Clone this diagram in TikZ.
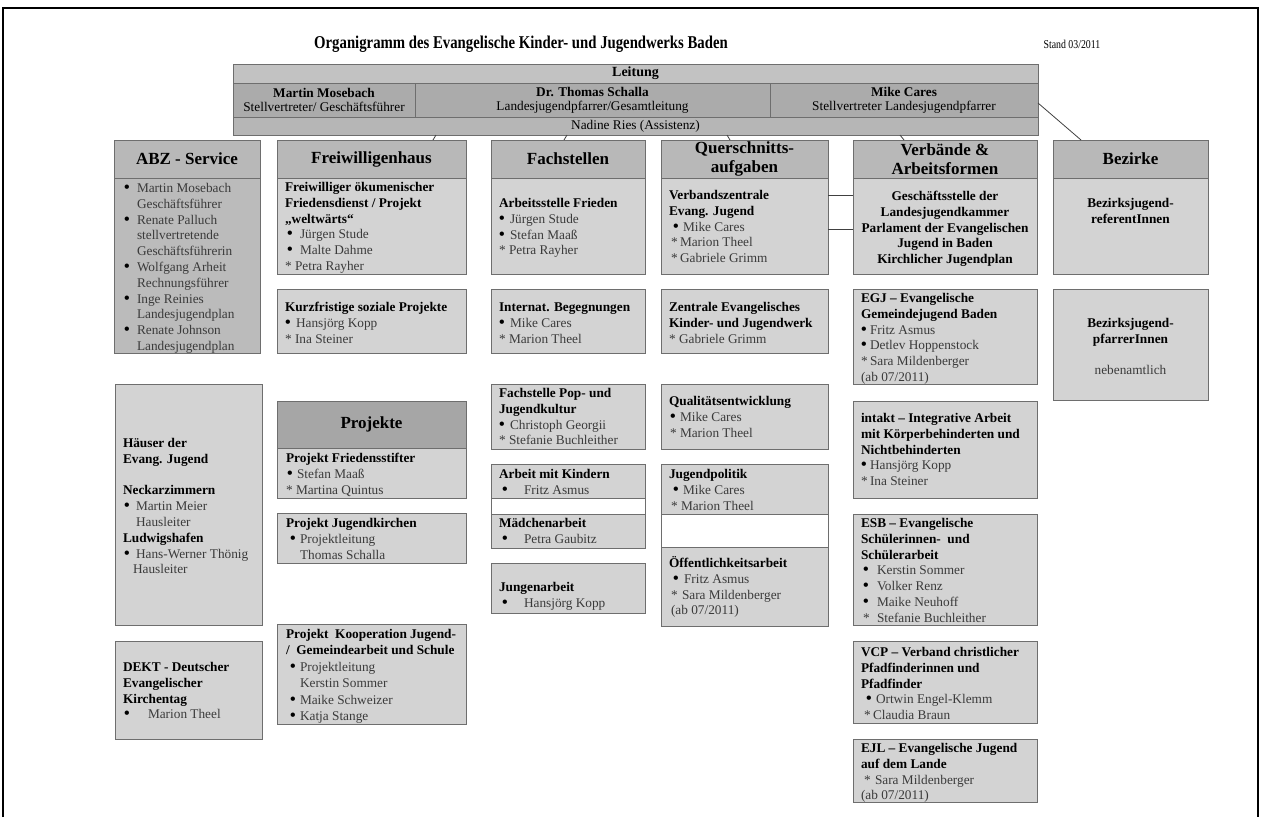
\documentclass[tikz,border=0pt]{standalone}
\usepackage{fontspec}
\setmainfont{Liberation Serif}
\newfontfamily\titlefont[FakeStretch=0.82]{Liberation Serif}
\usetikzlibrary{calc}
\definecolor{bordercol}{HTML}{6E6E6E}
\definecolor{hdrcol}{HTML}{B8B8B8}
\definecolor{boxcol}{HTML}{D3D3D3}
\definecolor{abzcol}{HTML}{BBBBBB}
\definecolor{projcol}{HTML}{A6A6A6}
\definecolor{leitTcol}{HTML}{C2C2C2}
\definecolor{leitMcol}{HTML}{ABABAB}
\definecolor{leitNcol}{HTML}{B6B6B6}
\definecolor{namecol}{HTML}{3A3A3A}
\definecolor{linecol}{HTML}{404040}
\newcommand{\bodyfont}{\fontsize{13.3}{15.8}\selectfont}
\newcommand{\hdrfont}{\bfseries\fontsize{17}{19}\selectfont}
\newcommand{\bul}{{\fontsize{16}{16}\selectfont\bfseries\color{black}•}}
\newcommand{\itm}[3][0]{\hspace*{#1pt}\makebox[#2pt][l]{\bul}{\mdseries\color{namecol}#3}}
\newcommand{\astr}[3][0]{\hspace*{#1pt}\makebox[#2pt][l]{\color{namecol}*}{\mdseries\color{namecol}#3}}
\newcommand{\ctn}[2]{\hspace*{#1pt}{\mdseries\color{namecol}#2}}
\newcommand{\tx}[4]{\node[txt] (#1) at (#2,#3) {\strut #4};}
\tikzset{
  cell/.style={draw=bordercol, line width=0.8pt, anchor=north west, inner sep=0pt, outer sep=0pt},
  hdr/.style={cell, fill=hdrcol, font=\hdrfont, align=center, text=black},
  bx/.style={cell, fill=boxcol},
  txt/.style={anchor=north west, inner sep=0pt, outer sep=0pt, align=left, font=\bodyfont, text=black},
  ctxt/.style={txt, anchor=north, align=center},
  conn/.style={draw=linecol, line width=0.8pt},
}
\begin{document}
\begin{tikzpicture}[x=1pt,y=-1pt]
\useasboundingbox (0,0) rectangle (1263,817);
% frame
\draw[line width=1.8pt, black] (3,817) -- (3,8) -- (1258,8) -- (1258,817);
% title
\node[font=\titlefont\bfseries\fontsize{18}{20}\selectfont] (title) at (521,44) {Organigramm des Evangelische Kinder- und Jugendwerks Baden};
\node[font=\titlefont\fontsize{12}{14}\selectfont] (stand) at (1072,44) {Stand 03/2011};

% Leitung
\node[cell, fill=leitTcol, minimum width=805, minimum height=19, font=\bfseries\fontsize{14}{16}\selectfont] (leitT) at (233,64) {Leitung};
\node[cell, fill=leitMcol, minimum width=182, minimum height=34, align=center, font=\fontsize{13.3}{14}\selectfont] (leitA) at (233,83) {\textbf{Martin Mosebach}\\Stellvertreter/ Geschäftsführer};
\node[cell, fill=leitMcol, minimum width=355, minimum height=34, align=center, font=\fontsize{13.3}{14}\selectfont] (leitB) at (415,83) {\textbf{Dr. Thomas Schalla}\\Landesjugendpfarrer/Gesamtleitung};
\node[cell, fill=leitMcol, minimum width=268, minimum height=34, align=center, font=\fontsize{13.3}{14}\selectfont] (leitC) at (770,83) {\textbf{Mike Cares}\\Stellvertreter Landesjugendpfarrer};
\node[cell, fill=leitNcol, minimum width=805, minimum height=18, font=\fontsize{13.3}{14}\selectfont] (leitN) at (233,117) {Nadine Ries (Assistenz)};
\node[cell, minimum width=805, minimum height=71] (leit) at (233,64) {};

% ---- ABZ column
\node[hdr, minimum width=146, minimum height=38] (abzH) at (114,140) {ABZ - Service};
\node[bx, fill=abzcol, minimum width=146, minimum height=175] (abzB) at (114,178) {};
\tx{abzT}{124}{181.5}{\itm{13}{Martin Mosebach}\\\ctn{13}{Geschäftsführer}\\\itm{13}{Renate Palluch}\\\ctn{13}{stellvertretende}\\\ctn{13}{Geschäftsführerin}\\\itm{13}{Wolfgang Arheit}\\\ctn{13}{Rechnungsführer}\\\itm{13}{Inge Reinies}\\\ctn{13}{Landesjugendplan}\\\itm{13}{Renate Johnson}\\\ctn{13}{Landesjugendplan}}
\node[bx, minimum width=147, minimum height=241] (hausB) at (115,384) {};
\tx{hausT}{123}{436.5}{\textbf{Häuser der}\\\textbf{Evang. Jugend}\\\mbox{}\\\textbf{Neckarzimmern}\\\itm[1]{12}{Martin Meier}\\\ctn{13}{Hausleiter}\\\textbf{Ludwigshafen}\\\itm[1]{12}{Hans-Werner Thönig}\\\ctn{10}{Hausleiter}}
\node[bx, minimum width=147, minimum height=98] (dektB) at (115,641) {};
\tx{dektT}{123}{660.5}{\textbf{DEKT - Deutscher}\\\textbf{Evangelischer}\\\textbf{Kirchentag}\\\itm[1]{24}{Marion Theel}}

% ---- Freiwilligenhaus column
\node[hdr, minimum width=189, minimum height=38] (fwH) at (277,140) {Freiwilligenhaus};
\node[bx, minimum width=189, minimum height=96] (fwB1) at (277,178) {};
\tx{fwT1}{285}{180.5}{\textbf{Freiwilliger ökumenischer}\\\textbf{Friedensdienst / Projekt}\\\textbf{„weltwärts“}\\\itm[2]{13}{Jürgen Stude}\\\itm[2]{13}{Malte Dahme}\\\astr{10}{Petra Rayher}}
\node[bx, minimum width=189, minimum height=64] (fwB2) at (277,289) {};
\tx{fwT2}{285}{300.5}{\textbf{Kurzfristige soziale Projekte}\\\itm{11}{Hansjörg Kopp}\\\astr{10}{Ina Steiner}}
\node[hdr, fill=projcol, minimum width=189, minimum height=47] (projH) at (277,401) {Projekte};
\node[bx, minimum width=189, minimum height=50] (projB1) at (277,448) {};
\tx{projT1}{286}{451.5}{\textbf{Projekt Friedensstifter}\\\itm[1]{10}{Stefan Maaß}\\\astr{10}{Martina Quintus}}
\node[bx, minimum width=189, minimum height=50] (projB2) at (277,513) {};
\tx{projT2}{286}{516.5}{\textbf{Projekt Jugendkirchen}\\\itm[4]{10}{Projektleitung}\\\ctn{14}{Thomas Schalla}}
\node[bx, minimum width=189, minimum height=100] (projB3) at (277,624) {};
\node[txt, font=\fontsize{13.3}{16.5}\selectfont] (projT3) at (286,626.5) {\strut\textbf{Projekt\ \ Kooperation Jugend-}\\\textbf{/\ \ Gemeindearbeit und Schule}\\\itm[4]{10}{Projektleitung}\\\ctn{14}{Kerstin Sommer}\\\itm[4]{10}{Maike Schweizer}\\\itm[4]{10}{Katja Stange}};

% ---- Fachstellen column
\node[hdr, minimum width=154, minimum height=38] (fachH) at (491,140) {Fachstellen};
\node[bx, minimum width=154, minimum height=96] (fachB1) at (491,178) {};
\tx{fachT1}{499}{196.5}{\textbf{Arbeitsstelle Frieden}\\\itm{11}{Jürgen Stude}\\\itm{11}{Stefan Maaß}\\\astr{10}{Petra Rayher}}
\node[bx, minimum width=154, minimum height=64] (fachB2) at (491,289) {};
\tx{fachT2}{499}{300.5}{\textbf{Internat. Begegnungen}\\\itm{11}{Mike Cares}\\\astr{10}{Marion Theel}}
\node[bx, minimum width=154, minimum height=65] (fachB3) at (491,384) {};
\tx{fachT3}{499}{386.5}{\textbf{Fachstelle Pop- und}\\\textbf{Jugendkultur}\\\itm{11}{Christoph Georgii}\\\astr{10}{Stefanie Buchleither}}
\node[cell, fill=white, minimum width=154, minimum height=84] (fachB4) at (491,464) {};
\node[bx, minimum width=154, minimum height=34] (kinB) at (491,464) {};
\tx{kinT}{499}{467.5}{\textbf{Arbeit mit Kindern}\\\itm[3]{22}{Fritz Asmus}}
\node[bx, minimum width=154, minimum height=34] (maeB) at (491,514) {};
\tx{maeT}{499}{516.5}{\textbf{Mädchenarbeit}\\\itm[3]{22}{Petra Gaubitz}}
\node[bx, minimum width=154, minimum height=50] (junB) at (491,563) {};
\tx{junT}{499}{580.5}{\textbf{Jungenarbeit}\\\itm[3]{22}{Hansjörg Kopp}}

% ---- Querschnitt column
\node[hdr, minimum width=167, minimum height=38] (querH) at (661,140) {Querschnitts-\\aufgaben};
\node[bx, minimum width=167, minimum height=96] (querB1) at (661,178) {};
\tx{querT1}{669}{188.5}{\textbf{Verbandszentrale}\\\textbf{Evang. Jugend}\\\itm[4]{10}{Mike Cares}\\\astr[2]{9}{Marion Theel}\\\astr[2]{9}{Gabriele Grimm}}
\node[bx, minimum width=167, minimum height=64] (querB2) at (661,289) {};
\tx{querT2}{669}{300.5}{\textbf{Zentrale Evangelisches}\\\textbf{Kinder- und Jugendwerk}\\\astr{10}{Gabriele Grimm}}
\node[bx, minimum width=167, minimum height=65] (querB3) at (661,384) {};
\tx{querT3}{669}{394.5}{\textbf{Qualitätsentwicklung}\\\itm[1]{10}{Mike Cares}\\\astr[1]{10}{Marion Theel}}
\node[cell, fill=white, minimum width=167, minimum height=162] (querB4) at (661,464) {};
\node[bx, minimum width=167, minimum height=50] (jpB) at (661,464) {};
\tx{jpT}{669}{467.5}{\textbf{Jugendpolitik}\\\itm[4]{10}{Mike Cares}\\\astr[2]{10}{Marion Theel}}
\node[bx, minimum width=167, minimum height=79] (oeB) at (661,547) {};
\tx{oeT}{669}{556.5}{\textbf{Öffentlichkeitsarbeit}\\\itm[4]{11}{Fritz Asmus}\\\astr[2]{11}{Sara Mildenberger}\\\ctn{2}{(ab 07/2011)}}

% ---- Verbaende column
\node[hdr, minimum width=184, minimum height=38] (verbH) at (853,140) {Verbände \&\\Arbeitsformen};
\node[bx, minimum width=184, minimum height=96] (verbB1) at (853,178) {};
\node[ctxt, font=\bodyfont\bfseries] (verbT1) at (945,189.5) {\strut Geschäftsstelle der\\Landesjugendkammer\\Parlament der Evangelischen\\Jugend in Baden\\Kirchlicher Jugendplan};
\node[bx, minimum width=184, minimum height=95] (egjB) at (853,289) {};
\tx{egjT}{861}{291.5}{\textbf{EGJ – Evangelische}\\\textbf{Gemeindejugend Baden}\\\itm{9}{Fritz Asmus}\\\itm{9}{Detlev Hoppenstock}\\\astr{9}{Sara Mildenberger}\\\ctn{0}{(ab 07/2011)}}
\node[bx, minimum width=184, minimum height=97] (intB) at (853,401) {};
\tx{intT}{861}{411.5}{\textbf{intakt – Integrative Arbeit}\\\textbf{mit Körperbehinderten und}\\\textbf{Nichtbehinderten}\\\itm{9}{Hansjörg Kopp}\\\astr{9}{Ina Steiner}}
\node[bx, minimum width=184, minimum height=111] (esbB) at (853,514) {};
\tx{esbT}{861}{516.5}{\textbf{ESB – Evangelische}\\\textbf{Schülerinnen-\ \ und}\\\textbf{Schülerarbeit}\\\itm[2]{14}{Kerstin Sommer}\\\itm[2]{14}{Volker Renz}\\\itm[2]{14}{Maike Neuhoff}\\\astr[2]{14}{Stefanie Buchleither}}
\node[bx, minimum width=184, minimum height=82] (vcpB) at (853,641) {};
\tx{vcpT}{861}{645.5}{\textbf{VCP – Verband christlicher}\\\textbf{Pfadfinderinnen und}\\\textbf{Pfadfinder}\\\itm[5]{10}{Ortwin Engel-Klemm}\\\astr[3]{9}{Claudia Braun}}
\node[bx, minimum width=184, minimum height=63] (ejlB) at (853,739) {};
\tx{ejlT}{861}{741.5}{\textbf{EJL – Evangelische Jugend}\\\textbf{auf dem Lande}\\\astr[3]{11}{Sara Mildenberger}\\\ctn{0}{(ab 07/2011)}}

% ---- Bezirke column
\node[hdr, minimum width=155, minimum height=38] (bezH) at (1053,140) {Bezirke};
\node[bx, minimum width=155, minimum height=96] (bezB1) at (1053,178) {};
\node[ctxt, font=\bodyfont\bfseries] (bezT1) at (1130.5,196.5) {\strut Bezirksjugend-\\referentInnen};
\node[bx, minimum width=155, minimum height=111] (bezB2) at (1053,289) {};
\node[ctxt] (bezT2) at (1130.5,316.5) {\strut\textbf{Bezirksjugend-}\\\textbf{pfarrerInnen}\\\mbox{}\\{\color{namecol}nebenamtlich}};

% ---- connectors
\draw[conn] ($(leit.south west)+(203,0)$) -- ($(fwH.north west)+(156,0)$);
\draw[conn] ($(leit.south west)+(334,0)$) -- ($(fachH.north west)+(73,0)$);
\draw[conn] ($(leit.south west)+(494,0)$) -- ($(querH.north west)+(69,0)$);
\draw[conn] ($(leit.south west)+(667,0)$) -- ($(verbH.north west)+(51,0)$);
\draw[conn] ($(leit.north east)+(0,39)$) -- ($(bezH.north west)+(28,0)$);
\draw[conn] ($(querB1.north east)+(0,17)$) -- ($(verbB1.north west)+(0,17)$);
\draw[conn] ($(querB1.north east)+(0,51)$) -- ($(verbB1.north west)+(0,51)$);
\end{tikzpicture}
\end{document}
